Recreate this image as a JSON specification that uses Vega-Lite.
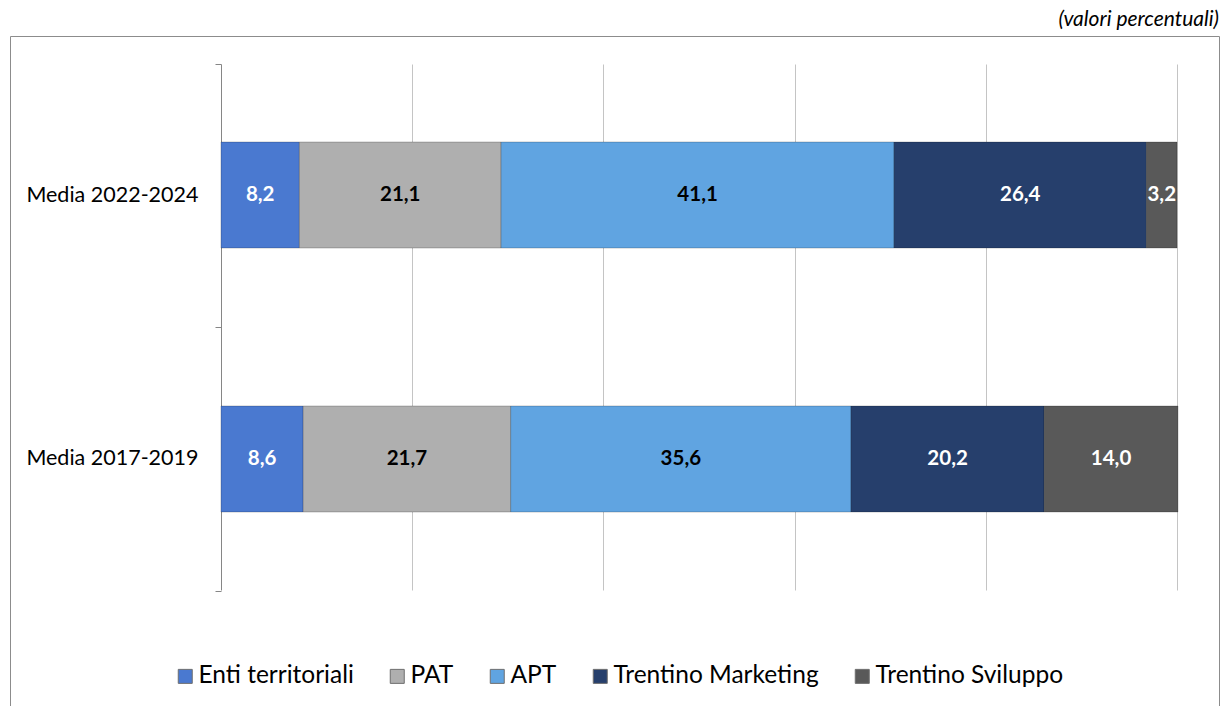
{
  "$schema": "https://vega.github.io/schema/vega-lite/v6.json",
  "autosize": {"type": "none"},
  "padding": {"left": 10, "top": 36, "right": 2, "bottom": 0},
  "width": 1209,
  "height": 670,
  "title": {
    "text": "(valori percentuali)",
    "anchor": "end",
    "frame": "group",
    "orient": "top",
    "fontStyle": "italic",
    "fontWeight": "normal",
    "fontSize": 21,
    "font": "Lato",
    "color": "#000000",
    "offset": -5
  },
  "config": {
    "font": "Lato",
    "view": {"stroke": "#8c8c8c", "strokeWidth": 1},
    "locale": {"number": {"decimal": ",", "thousands": ".", "grouping": [3], "currency": ["", " €"]}}
  },
  "data": {
    "values": [
      {"period": "Media 2022-2024", "cat": "Enti territoriali", "k": 1, "value": 8.2},
      {"period": "Media 2022-2024", "cat": "PAT", "k": 2, "value": 21.1},
      {"period": "Media 2022-2024", "cat": "APT", "k": 3, "value": 41.1},
      {"period": "Media 2022-2024", "cat": "Trentino Marketing", "k": 4, "value": 26.4},
      {"period": "Media 2022-2024", "cat": "Trentino Sviluppo", "k": 5, "value": 3.2},
      {"period": "Media 2017-2019", "cat": "Enti territoriali", "k": 1, "value": 8.6},
      {"period": "Media 2017-2019", "cat": "PAT", "k": 2, "value": 21.7},
      {"period": "Media 2017-2019", "cat": "APT", "k": 3, "value": 35.6},
      {"period": "Media 2017-2019", "cat": "Trentino Marketing", "k": 4, "value": 20.2},
      {"period": "Media 2017-2019", "cat": "Trentino Sviluppo", "k": 5, "value": 14.0}
    ]
  },
  "transform": [
    {"stack": "value", "groupby": ["period"], "sort": [{"field": "k", "order": "ascending"}], "as": ["v0", "v1"]}
  ],
  "encoding": {
    "y": {
      "field": "period",
      "type": "nominal",
      "sort": ["Media 2022-2024", "Media 2017-2019"],
      "scale": {"range": [28, 554], "paddingInner": 0.5985, "paddingOuter": 0.2955},
      "axis": {
        "title": null,
        "orient": "left",
        "offset": -211,
        "domain": true,
        "domainColor": "#868686",
        "domainWidth": 1,
        "grid": false,
        "ticks": true,
        "bandPosition": 2.48,
        "tickOffset": -78,
        "tickExtra": true,
        "tickSize": 6,
        "tickColor": "#868686",
        "tickWidth": 1,
        "labelOffset": 78,
        "labelFontSize": 21.5,
        "labelColor": "#000000",
        "labelPadding": 17,
        "labelAlign": "right",
        "labelBaseline": "middle",
        "zindex": 0
      }
    }
  },
  "layer": [
    {
      "mark": {"type": "bar", "stroke": "#000000", "strokeOpacity": 0.22, "strokeWidth": 1},
      "encoding": {
        "x": {
          "field": "v0",
          "type": "quantitative",
          "scale": {"domain": [-22.07, 104.39], "nice": false, "zero": false},
          "axis": {
            "title": null,
            "orient": "top",
            "values": [20, 40, 60, 80, 100],
            "labels": false,
            "domain": false,
            "ticks": false,
            "grid": true,
            "gridColor": "#c4c4c4",
            "gridWidth": 1,
            "gridOpacity": 1,
            "zindex": 0
          }
        },
        "x2": {"field": "v1"},
        "color": {
          "field": "cat",
          "type": "nominal",
          "scale": {
            "domain": ["Enti territoriali", "PAT", "APT", "Trentino Marketing", "Trentino Sviluppo"],
            "range": ["#4a79d0", "#afafaf", "#60a4e1", "#263f6c", "#595959"]
          },
          "legend": {
            "title": null,
            "orient": "none",
            "direction": "horizontal",
            "legendX": 163,
            "legendY": 628,
            "symbolType": "square",
            "symbolSize": 196,
            "symbolStrokeWidth": 1,
            "symbolStrokeColor": "#6f6f6f",
            "symbolOpacity": 1,
            "labelFontSize": 24.5,
            "labelColor": "#000000",
            "labelOffset": 1,
            "labelLimit": 0,
            "columnPadding": 31,
            "padding": 0
          }
        }
      }
    },
    {
      "transform": [
        {"fold": ["v0", "v1"], "as": ["edge", "pos"]},
        {"aggregate": [{"op": "mean", "field": "pos", "as": "mid"}], "groupby": ["period", "cat", "value"]}
      ],
      "mark": {"type": "text", "fontWeight": "bold", "fontSize": 20.5, "align": "center", "baseline": "middle"},
      "encoding": {
        "x": {
          "field": "mid",
          "type": "quantitative",
          "scale": {"domain": [-22.07, 104.39], "nice": false, "zero": false},
          "axis": {
            "title": null,
            "orient": "top",
            "values": [20, 40, 60, 80, 100],
            "labels": false,
            "domain": false,
            "ticks": false,
            "grid": true,
            "gridColor": "#c4c4c4",
            "gridWidth": 1,
            "gridOpacity": 1,
            "zindex": 0
          }
        },
        "text": {"field": "value", "type": "quantitative", "format": ".1f"},
        "color": {
          "condition": {"test": "datum.cat === 'PAT' || datum.cat === 'APT'", "value": "#000000"},
          "value": "#ffffff"
        }
      }
    }
  ]
}
